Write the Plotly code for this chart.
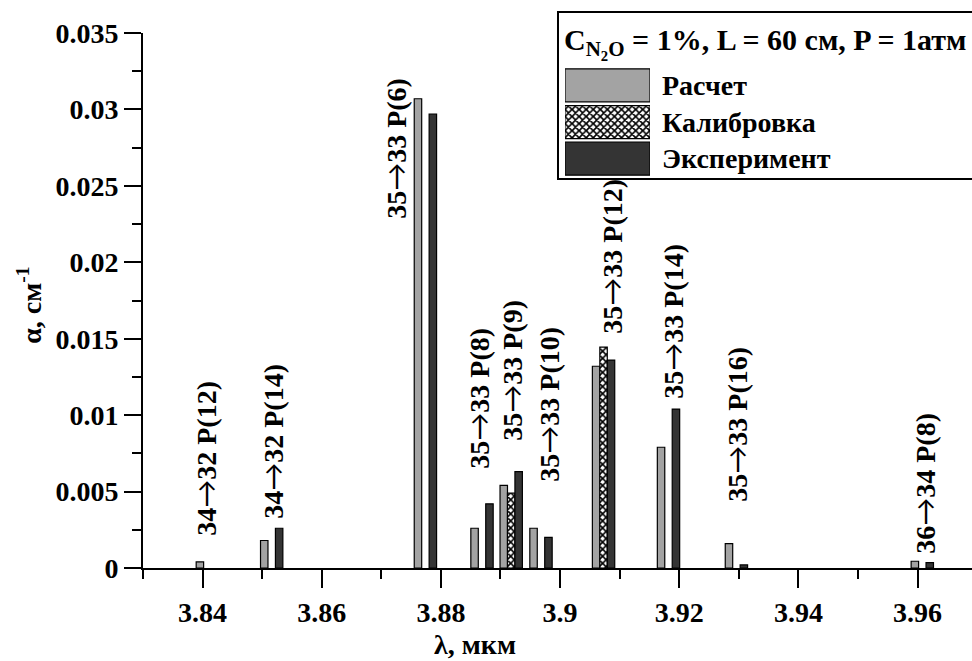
import plotly.graph_objects as go

# ---------------- data ----------------
line_labels = ["34→32 P(12)", "34→32 P(14)", "35→33 P(6)", "35→33 P(8)", "35→33 P(9)",
               "35→33 P(10)", "35→33 P(12)", "35→33 P(14)", "35→33 P(16)", "36→34 P(8)"]
wavelength = [3.8408, 3.8516, 3.8774, 3.8869, 3.8918, 3.8968, 3.9073, 3.9182, 3.9296, 3.9608]
calc = [0.0004, 0.0018, 0.0307, 0.0026, 0.0054, 0.0026, 0.0132, 0.0079, 0.0016, 0.00044]
calib = [None, None, None, None, 0.0049, None, 0.01445, None, None, None]
exper = [None, 0.0026, 0.0297, 0.0042, 0.0063, 0.0020, 0.0136, 0.0104, 0.0002, 0.00035]
series_names = ["Расчет", "Калибровка", "Эксперимент"]
x_ticks = [3.84, 3.86, 3.88, 3.90, 3.92, 3.94, 3.96]
x_ticktext = ["3.84", "3.86", "3.88", "3.9", "3.92", "3.94", "3.96"]
y_ticks = [0, 0.005, 0.01, 0.015, 0.02, 0.025, 0.03, 0.035]
y_ticktext = ["0", "0.005", "0.01", "0.015", "0.02", "0.025", "0.03", "0.035"]

# ---------------- layout helpers (positions / styles) ----------------
label_x = [3.84045, 3.85153, 3.87236, 3.88609, 3.89163, 3.89784, 3.90859, 3.91866, 3.92939, 3.96096]
label_y = [0.00203, 0.00314, 0.02277, 0.00641, 0.00824, 0.00556, 0.01525, 0.01099, 0.00425, 0.00085]

FONT = "Liberation Serif"
FS = 28
BW = 0.00125
GRAY = "#a3a3a3"
DARK = "#343434"
ARROW = '<span style="font-family:Lato;font-weight:normal">→</span>'

def tfont(size=FS):
    return dict(family=FONT, size=size, color="black", weight="bold")

styles = [
    dict(marker=dict(color=GRAY, line=dict(color="black", width=1.2))),
    dict(marker=dict(color="white", line=dict(color="black", width=1.2),
                     pattern=dict(shape="x", fgcolor="black", bgcolor="white", size=5,
                                  solidity=0.55, fgopacity=1))),
    dict(marker=dict(color=DARK, line=dict(color="black", width=1.2))),
]
offsets = [-1.5 * BW, -0.5 * BW, 0.5 * BW]

fig = go.Figure()
for vals, st, off, nm in zip([calc, calib, exper], styles, offsets, series_names):
    fig.add_trace(go.Bar(x=wavelength, y=vals, width=BW, offset=off, name=nm,
                         showlegend=False, **st))

# legend swatches on an auxiliary axis
for i, (st, nm) in enumerate(zip(styles, series_names)):
    fig.add_trace(go.Bar(x=[1], y=[2 - i], orientation="h", width=0.9, base=0,
                         xaxis="x2", yaxis="y2", showlegend=False, hoverinfo="skip", **st))

annotations = []
for lx, ly, txt in zip(label_x, label_y, line_labels):
    annotations.append(dict(x=lx, y=ly, xref="x", yref="y", text=txt.replace("→", ARROW),
                            textangle=-90, showarrow=False, xanchor="center", yanchor="bottom",
                            font=tfont(), borderpad=0))
for i, nm in enumerate(series_names):
    annotations.append(dict(x=0.6236, y=2 - i, xref="paper", yref="y2", text=nm,
                            showarrow=False, xanchor="left", yanchor="middle", font=tfont()))
annotations.append(dict(x=0.506, y=1.0215, xref="paper", yref="paper",
                        text="C<sub>N<sub>2</sub>O</sub> = 1%, L = 60 см, P = 1атм",
                        showarrow=False, xanchor="left", yanchor="top", font=tfont(30)))
annotations.append(dict(x=0.40, y=-0.143, xref="paper", yref="paper", text="λ, мкм",
                        showarrow=False, xanchor="center", yanchor="middle", font=tfont()))
annotations.append(dict(x=-0.1363, y=0.49, xref="paper", yref="paper", text="α, см<sup>-1</sup>",
                        textangle=-90, showarrow=False, xanchor="center", yanchor="middle",
                        font=tfont()))

fig.update_layout(
    width=972, height=661,
    margin=dict(l=143, r=0, t=33, b=93),
    paper_bgcolor="white", plot_bgcolor="white",
    barmode="overlay",
    font=tfont(),
    xaxis=dict(range=[3.83, 3.96914], tickvals=x_ticks, ticktext=x_ticktext,
               ticks="outside", ticklen=18, tickwidth=2, tickcolor="black",
               showline=True, linecolor="black", linewidth=2, showgrid=False, zeroline=False,
               minor=dict(tickvals=[3.83, 3.85, 3.87, 3.89, 3.91, 3.93, 3.95], ticks="outside",
                          ticklen=9, tickwidth=2, tickcolor="black"),
               tickfont=tfont()),
    yaxis=dict(range=[0, 0.035], tickvals=y_ticks, ticktext=y_ticktext,
               ticks="outside", ticklen=17, tickwidth=2, tickcolor="black",
               showline=True, linecolor="black", linewidth=2, showgrid=False, zeroline=False,
               minor=dict(dtick=0.0025, tick0=0, ticks="outside", ticklen=9, tickwidth=2, tickcolor="black"),
               tickfont=tfont()),
    xaxis2=dict(domain=[0.509, 0.6116], anchor="y2", range=[0, 1], visible=False, fixedrange=True),
    yaxis2=dict(domain=[0.7308, 0.9364], anchor="x2", range=[-0.5, 2.5], visible=False, fixedrange=True),
    shapes=[dict(type="rect", xref="paper", yref="paper", x0=0.5006, x1=1.02, y0=0.7271, y1=1.0393,
                 line=dict(color="black", width=2), fillcolor="white", layer="below")],
    annotations=annotations,
)

fig.write_html("out.html")
